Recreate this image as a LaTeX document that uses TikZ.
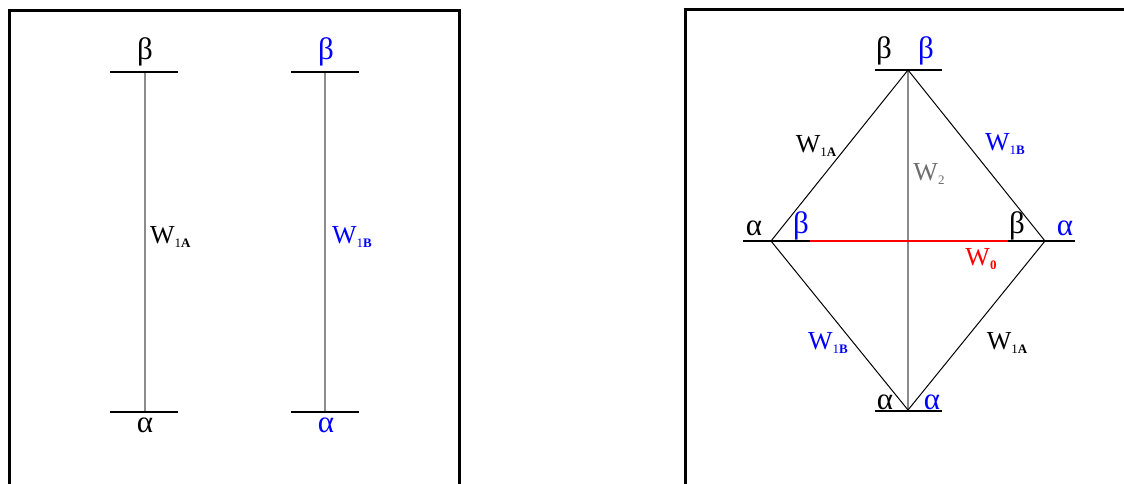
\documentclass[tikz,border=0pt]{standalone}
\usepackage{fontspec}
\setmainfont{Liberation Serif}
\definecolor{myblue}{RGB}{0,0,255}
\definecolor{myred}{RGB}{255,0,0}
\definecolor{mygray}{RGB}{110,110,110}
\definecolor{linegray}{RGB}{140,140,140}
\tikzset{
  frame/.style={line width=3pt},
  bar/.style={line width=1.8pt},
  diag/.style={line width=1pt},
  redline/.style={line width=1.25pt, color=myred},
  greyline/.style={line width=1.1pt, draw=linegray},
  greek/.style={inner sep=0pt, font=\fontsize{31}{31}\selectfont},
  wlab/.style={inner sep=0pt, font=\fontsize{26}{26}\selectfont},
}
\newcommand{\Wsub}[2]{W\raisebox{-4pt}{\fontsize{13}{13}\selectfont #1\textbf{#2}}}
\begin{document}
\begin{tikzpicture}[x=1pt,y=-1pt]
\useasboundingbox (0,0) rectangle (1124,483);
% frames
\draw[frame] (9,490) -- (9,10) -- (459,10) -- (459,490);
\draw[frame] (685,490) -- (685,9) -- (1130,9);
% left panel, column A
\coordinate (a1t) at (145,72); \coordinate (a1b) at (145,412);
\coordinate (a1tl) at (110,72); \coordinate (a1tr) at (178,72);
\coordinate (a1bl) at (110,412); \coordinate (a1br) at (178,412);
\draw[greyline] (a1t) -- (a1b);
\draw[bar] (a1tl) -- (a1tr);
\draw[bar] (a1bl) -- (a1br);
\node[greek] (b1) at (145,52) {β};
\node[greek] (al1) at (145,425) {α};
\node[wlab, anchor=west] (w1) at (150,237) {\Wsub{1}{A}};
% column B
\coordinate (a2t) at (325,72); \coordinate (a2b) at (325,412);
\coordinate (a2tl) at (291,72); \coordinate (a2tr) at (359,72);
\coordinate (a2bl) at (291,412); \coordinate (a2br) at (359,412);
\draw[greyline] (a2t) -- (a2b);
\draw[bar] (a2tl) -- (a2tr);
\draw[bar] (a2bl) -- (a2br);
\node[greek, text=myblue] (b2) at (326,52) {β};
\node[greek, text=myblue] (al2) at (326,425) {α};
\node[wlab, anchor=west, text=myblue] (w2) at (332,237) {\Wsub{1}{B}};
% right panel
\coordinate (T) at (908,70);
\coordinate (L) at (771,241);
\coordinate (R) at (1045,241);
\coordinate (B) at (908,410);
\coordinate (Ll) at (743,241); \coordinate (Lr) at (810,241);
\coordinate (Rl) at (1008,241); \coordinate (Rr) at (1075,241);
\coordinate (Tl) at (875,70); \coordinate (Tr) at (942,70);
\coordinate (Bl) at (875,411); \coordinate (Br) at (942,411);
\draw[greyline] (T) -- (B);
\draw[redline] (Lr) -- (Rl);
\draw[diag] (T) -- (L) -- (B) -- (R) -- cycle;
\draw[bar] (Ll) -- (Lr);
\draw[bar] (Rl) -- (Rr);
\draw[bar] (Tl) -- (Tr);
\draw[bar] (Bl) -- (Br);
\node[greek] (tb1) at (884,51) {β};
\node[greek, text=myblue] (tb2) at (926,51) {β};
\node[greek] (la) at (754,228) {α};
\node[greek, text=myblue] (lb) at (801,226) {β};
\node[greek] (rb) at (1017,226) {β};
\node[greek, text=myblue] (ra) at (1065,228) {α};
\node[greek] (ba1) at (885,402) {α};
\node[greek, text=myblue] (ba2) at (932,402) {α};
\node[wlab] (l1) at (816,146) {\Wsub{1}{A}};
\node[wlab, text=mygray] (l2) at (929,174) {W\raisebox{-4pt}{\fontsize{13}{13}\selectfont 2}};
\node[wlab, text=myblue] (l3) at (1005,144) {\Wsub{1}{B}};
\node[wlab, text=myred] (l4) at (981,259) {W\raisebox{-4pt}{\fontsize{13}{13}\selectfont\textbf{0}}};
\node[wlab, text=myblue] (l5) at (828,343) {\Wsub{1}{B}};
\node[wlab] (l6) at (1007,343) {\Wsub{1}{A}};
\end{tikzpicture}
\end{document}
